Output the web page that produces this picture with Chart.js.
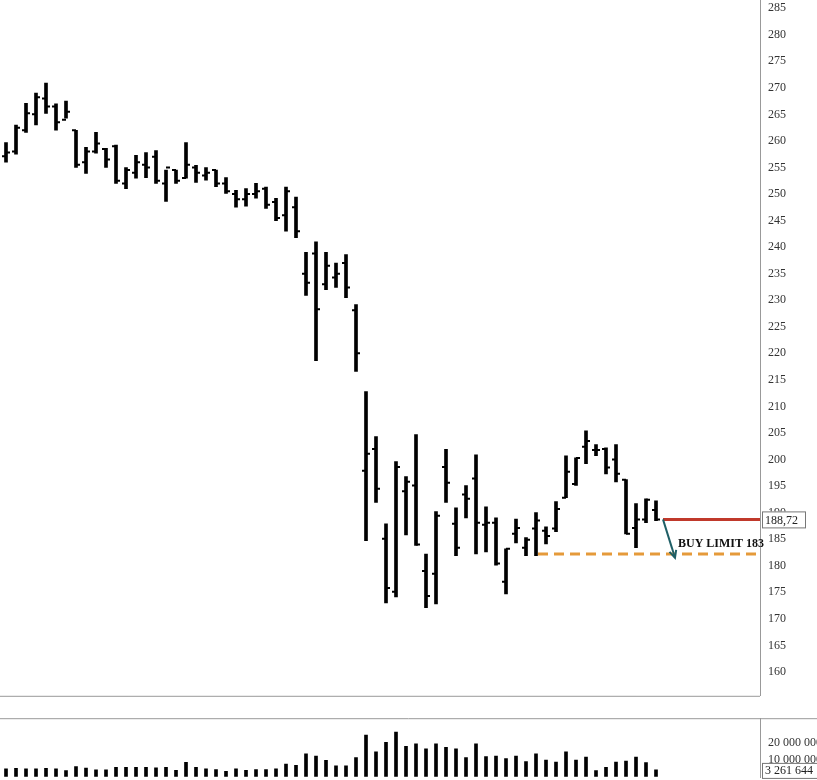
<!DOCTYPE html>
<html><head><meta charset="utf-8">
<script src="https://cdn.jsdelivr.net/npm/chart.js@4"></script>
<style>
html,body{margin:0;padding:0;background:#fff;overflow:hidden}
</style></head><body>
<div style="position:absolute;left:0;top:-11px;width:817px;height:718px"><canvas id="c1"></canvas></div>
<div style="position:absolute;left:0;top:707px;width:817px;height:82px"><canvas id="c2"></canvas></div>
<script>
const opens  = [257.1,258,262,265,268,266.5,264,262,256,258,258.5,259,252,254,255.5,257,252,254.5,253,255,253.5,254.5,252,250,249,250,251,248.5,246,247.5,235,238.8,233,234.3,237,228.1,197.9,202,185.1,175.1,194,195.1,179,178.5,198.6,187.9,193.4,196.4,187.7,188.1,177,186,183.4,187,186.6,187,192.8,195.4,202.4,201.8,202,200,196.2,187.1,188.7,190.5];
const highs  = [259.7,263,267.1,269,270.9,267,267.5,262,258.8,261.6,258.6,259.2,255,257.3,257.8,258.2,254.5,254.5,259.7,255.4,255,254.5,253.1,250.7,251,252,251.3,249.2,251.3,249.4,239,241,239,237,238.6,229.2,212.8,204.3,187.9,199.6,196.8,204.7,182.2,190.2,201.9,190.9,195.1,200.9,191.1,189,183.2,188.8,185.3,190,187.3,192.1,200.7,200.3,205.4,202.8,202.2,202.8,196.2,191.7,192.6,192.2];
const lows   = [256,257.5,261.6,263,265.2,262,264.3,255,253.9,257.7,255,252,251,253,253.1,252,248.6,252,253,252.2,252.6,251.4,250.1,247.5,247.7,249.2,247.3,245,243,241.8,230.9,218.6,232,232.4,230.5,216.6,184.7,191.9,173,174.1,185.8,183.8,172.1,172.8,191.9,181.9,189,182.2,182.6,180.1,174.7,184.3,181.9,181.9,184.1,186.4,192.8,195.1,199.2,200.7,197.3,195.8,186,183.4,188.1,188.5];
const closes = [257.8,262.5,265.2,268.2,266.5,263.5,265.5,255.5,258,259.5,256.5,252.5,254.5,256,255,252.5,255,252.5,255.5,254,254,252,250.5,249,250,250.5,248,245.5,250.5,243,233.3,228.3,236.5,235,232.4,220,201.1,194.5,175.8,198.6,195.8,184,174.3,189.4,195.6,183.4,192.6,188.1,188.1,180.4,183.2,187.1,184.9,188.5,185.6,190.7,197.7,200.3,203.5,201.8,198.5,197.3,186,188.7,192.4,188.7];
const volumes = [4.5,4.8,4.5,4.5,4.8,4.5,3.5,5.9,5.0,3.9,3.9,5.5,5.5,5.5,5.5,5.1,5.5,3.7,8.4,5.5,4.5,4.1,3.1,4.5,3.7,4.1,4.1,4.5,7.3,6.7,13.5,12.2,9.6,6.3,6.3,11.2,24.7,14.7,20.4,26.5,18,19.4,16.5,19.4,17.4,16.5,11.2,19.4,11.8,12.2,10.6,12.2,8.8,13.5,9.8,8.6,14.7,9.8,11.6,3.5,5.5,8.6,9.2,11.6,8.2,3.9].map(v=>v*1e6);
const priceTicks = [160,165,170,175,180,185,190,195,200,205,210,215,220,225,230,235,240,245,250,255,260,265,270,275,280,285];
const lastPrice = 188.72, lastPriceLabel = "188,72";
const buyLimit = 182.2, buyLimitLabel = "BUY LIMIT 183";
const volTicks = [10e6,20e6];
const lastVolLabel = "3 261 644";

const idx = opens.map((_,i)=>i);
const FONT = "'Liberation Serif'";
const axisW = 57;

const ohlcPlugin = {
  id:'ohlc',
  afterDatasetsDraw(ch){
    const x=ch.scales.x, y=ch.scales.y, c=ch.ctx;
    c.save(); c.strokeStyle='#000'; c.lineWidth=2;
    idx.forEach(i=>{
      const px=x.getPixelForValue(i);
      c.beginPath();
      c.moveTo(px-4,y.getPixelForValue(opens[i])); c.lineTo(px,y.getPixelForValue(opens[i]));
      c.moveTo(px,y.getPixelForValue(closes[i])); c.lineTo(px+4,y.getPixelForValue(closes[i]));
      c.stroke();
    });
    const x0=x.getPixelForValue(65.7), y0=y.getPixelForValue(lastPrice);
    const x1=x.getPixelForValue(66.9), y1=y.getPixelForValue(181.5);
    c.strokeStyle='#1f5f66'; c.lineWidth=2;
    c.beginPath(); c.moveTo(x0,y0); c.lineTo(x1,y1); c.stroke();
    const a=Math.atan2(y1-y0,x1-x0);
    c.beginPath();
    c.moveTo(x1-8*Math.cos(a-0.45),y1-8*Math.sin(a-0.45)); c.lineTo(x1,y1);
    c.lineTo(x1-8*Math.cos(a+0.45),y1-8*Math.sin(a+0.45)); c.stroke();
    c.fillStyle='#111'; c.font="bold 12px "+FONT; c.textBaseline='middle';
    c.fillText(buyLimitLabel, x.getPixelForValue(67.2), y.getPixelForValue(184.1));
    const ry=y.getPixelForValue(lastPrice);
    c.fillStyle='#fff'; c.fillRect(762,ry-8,44,17);
    c.strokeStyle='#777'; c.lineWidth=1; c.strokeRect(762.5,ry-7.5,43,16);
    c.fillStyle='#222'; c.font="12px "+FONT; c.fillText(lastPriceLabel,765,ry+1);
    c.strokeStyle='#999'; c.beginPath(); c.moveTo(0,ch.chartArea.bottom+0.5); c.lineTo(760,ch.chartArea.bottom+0.5); c.stroke();
    c.restore();
  }
};

new Chart(document.getElementById('c1'),{
  data:{datasets:[
    {type:'bar',data:idx.map(i=>({x:i,y:[lows[i],highs[i]]})),backgroundColor:'#000',barThickness:3,grouped:false},
    {type:'line',data:[{x:65.7,y:lastPrice},{x:75.4,y:lastPrice}],borderColor:'#c0392b',borderWidth:3,pointRadius:0},
    {type:'line',data:[{x:53.2,y:buyLimit},{x:75.4,y:buyLimit}],borderColor:'#e59a3a',borderWidth:3,borderDash:[10,6],pointRadius:0}
  ]},
  options:{responsive:true,maintainAspectRatio:false,animation:false,
    layout:{padding:0},
    plugins:{legend:{display:false},tooltip:{enabled:false}},
    scales:{
      x:{type:'linear',min:-0.6,max:75.4,display:false,offset:false},
      y:{position:'right',min:155.5,max:286.5,
        afterBuildTicks:s=>{s.ticks=priceTicks.map(v=>({value:v}));},
        afterFit:s=>{s.width=axisW;},
        grid:{display:false,drawTicks:true,tickLength:4,color:'#888'},
        border:{color:'#999'},
        ticks:{color:'#333',font:{family:FONT,size:12},padding:4}
      }
    }
  },
  plugins:[ohlcPlugin]
});

const volPlugin={id:'vol',afterDraw(ch){
  const c=ch.ctx,y=ch.scales.y;
  c.save();
  c.strokeStyle='#999'; c.lineWidth=1;
  c.beginPath(); c.moveTo(0,ch.chartArea.top+0.5); c.lineTo(817,ch.chartArea.top+0.5); c.stroke();
  const vy=y.getPixelForValue(volumes[volumes.length-1]);
  const by=Math.min(vy,64);
  c.fillStyle='#fff'; c.fillRect(762,by-7,56,16);
  c.strokeStyle='#777'; c.strokeRect(762.5,by-6.5,56,15);
  c.fillStyle='#222'; c.font="12px "+FONT; c.textBaseline='middle'; c.fillText(lastVolLabel,765,by+1);
  c.restore();
}};

new Chart(document.getElementById('c2'),{
  data:{datasets:[{type:'bar',data:idx.map(i=>({x:i,y:volumes[i]})),backgroundColor:'#000',barThickness:3}]},
  options:{responsive:true,maintainAspectRatio:false,animation:false,
    layout:{padding:0},
    plugins:{legend:{display:false},tooltip:{enabled:false}},
    scales:{
      x:{type:'linear',min:-0.6,max:75.4,display:false,offset:false},
      y:{position:'right',min:-0.8e6,max:34.7e6,
        afterBuildTicks:s=>{s.ticks=volTicks.map(v=>({value:v}));},
        afterFit:s=>{s.width=axisW;},
        grid:{display:false,tickLength:4,color:'#888'},
        border:{color:'#999'},
        ticks:{color:'#333',font:{family:FONT,size:12},padding:4,
          callback:v=>v.toLocaleString('en-US').replace(/,/g,' ')}
      }
    }
  },
  plugins:[volPlugin]
});
</script></body></html>
